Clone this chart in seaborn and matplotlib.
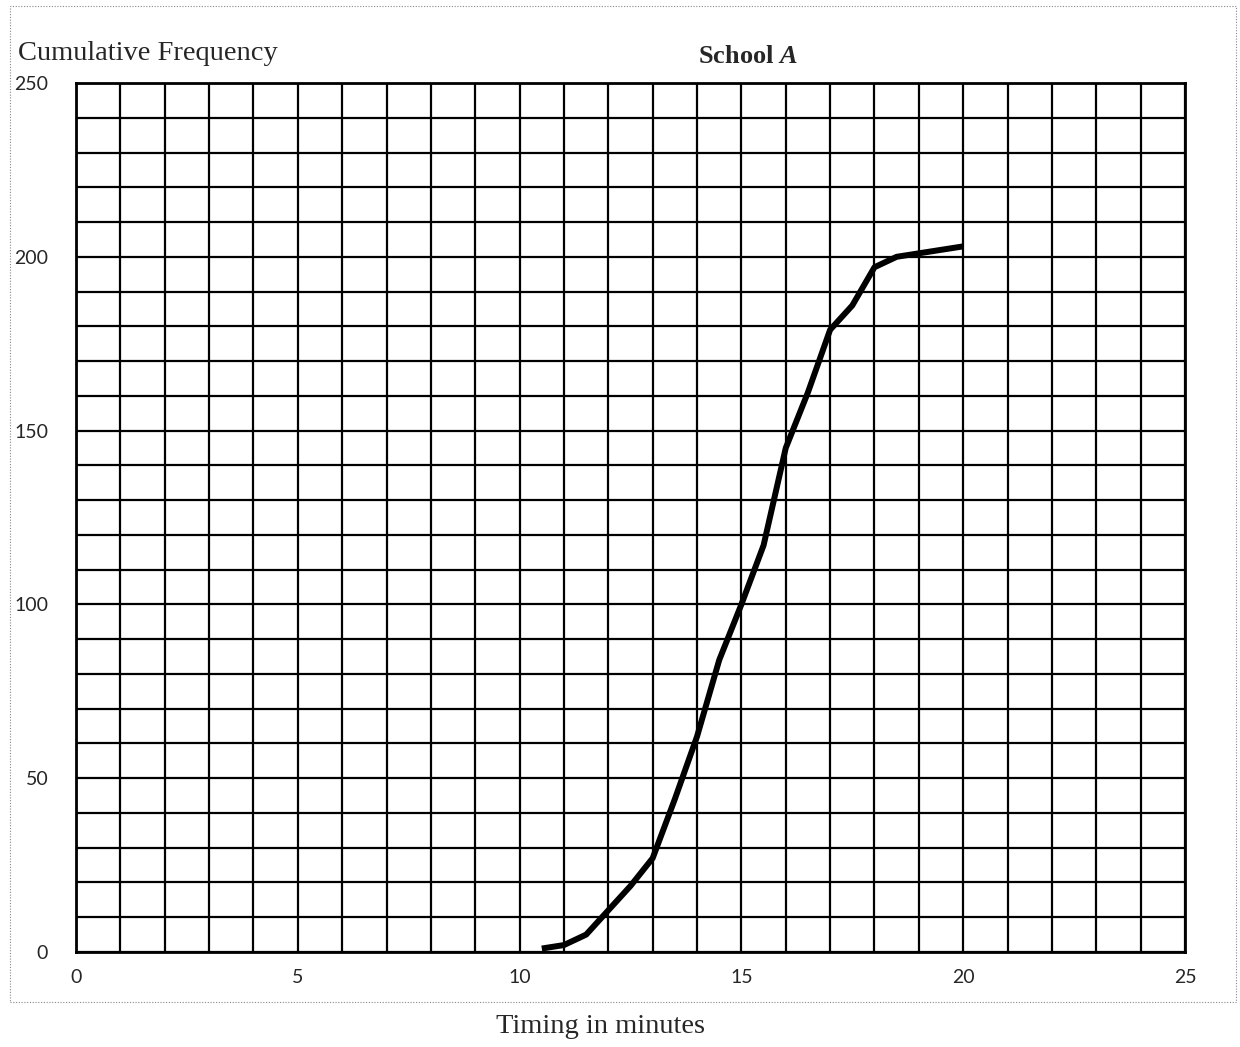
import matplotlib
matplotlib.use("Agg")
import matplotlib.pyplot as plt
import seaborn as sns
import pandas as pd
from matplotlib.patches import Rectangle

# Cumulative frequency of timings (minutes) for School A
timing_minutes = [10.5, 11, 11.5, 12, 12.5, 13, 13.5, 14, 14.5, 15,
                  15.5, 16, 16.5, 17, 17.5, 18, 18.5, 19, 20]
cumulative_freq = [1, 2, 5, 12, 19, 27, 44, 62, 84, 100,
                   117, 145, 161, 179, 186, 197, 200, 201, 203]

x_ticks = [0, 5, 10, 15, 20, 25]
y_ticks = [0, 50, 100, 150, 200, 250]

title_text = "School $\\mathbfit{A}$"
x_label = "Timing in minutes"
y_label = "Cumulative Frequency"

sns.set_style("white")
plt.rcParams["font.family"] = ["Liberation Serif", "DejaVu Serif"]
plt.rcParams["mathtext.fontset"] = "custom"
plt.rcParams["mathtext.bfit"] = "Liberation Serif:bold:italic"

W, H = 1240, 1047
fig = plt.figure(figsize=(W / 100, H / 100), dpi=100)
left, right, top, bottom = 76, 1185, 83, 952
ax = fig.add_axes([left / W, 1 - bottom / H, (right - left) / W, (bottom - top) / H])

df = pd.DataFrame({"t": timing_minutes, "cf": cumulative_freq})
sns.lineplot(data=df, x="t", y="cf", ax=ax, color="black", linewidth=4.3,
             solid_joinstyle="round", solid_capstyle="butt", sort=False)

ax.set_xlim(0, 25)
ax.set_ylim(0, 250)
ax.set_xticks(x_ticks)
ax.set_xticks(range(0, 26), minor=True)
ax.set_yticks(y_ticks)
ax.set_yticks(range(0, 251, 10), minor=True)
ax.set_xticklabels([str(v) for v in x_ticks], family="Lato", fontsize=14)
ax.set_yticklabels([str(v) for v in y_ticks], family="Lato", fontsize=14)
ax.tick_params(which="both", length=0)
ax.tick_params(axis="x", pad=12)
ax.tick_params(axis="y", pad=20)
ax.grid(which="both", color="black", linewidth=1.6)
ax.set_axisbelow(True)
for s in ax.spines.values():
    s.set_color("black")
    s.set_linewidth(2.0)
ax.set_xlabel("")
ax.set_ylabel("")

# Labels placed in figure pixel coordinates
fig.text(18 / W, 1 - 60 / H, y_label, fontsize=20.5, ha="left", va="baseline")
fig.text(748 / W, 1 - 63 / H, title_text, fontsize=19, fontweight="bold",
         ha="center", va="baseline")
fig.text(600 / W, 1 - 1033 / H, x_label, fontsize=20.5, ha="center", va="baseline")

# Dotted frame around the chart area
frame = Rectangle((10 / W, 1 - 1002 / H), (1236 - 10) / W, (1002 - 6) / H,
                  transform=fig.transFigure, fill=False, edgecolor="#888888",
                  linestyle=(0, (1, 1.5)), linewidth=0.8)
fig.patches.append(frame)

fig.savefig("out.png", dpi=100, facecolor="white")
